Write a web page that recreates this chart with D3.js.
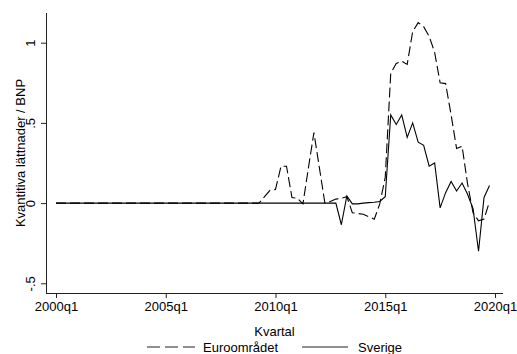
<!DOCTYPE html>
<html>
<head>
<meta charset="utf-8">
<script src="https://cdn.jsdelivr.net/npm/d3@7"></script>
<style>
  html, body { margin: 0; padding: 0; background: #fff; }
  svg { display: block; font-family: "Liberation Sans", Arial, Helvetica, sans-serif; }
</style>
</head>
<body>
<svg id="chart" width="517" height="354"></svg>
<script>
// Quarterly QE holdings relative to GDP, 2000q1 – 2019q4
const quarterLabels = ["2000q1", "2005q1", "2010q1", "2015q1", "2020q1"];
const quarterTickIndex = [0, 20, 40, 60, 80];
const yTickValues = [-0.5, 0, 0.5, 1];
const yTickLabels = ["-.5", "0", ".5", "1"];

const euroomradet = [
  0, 0, 0, 0, 0, 0, 0, 0, 0, 0,
  0, 0, 0, 0, 0, 0, 0, 0, 0, 0,
  0, 0, 0, 0, 0, 0, 0, 0, 0, 0,
  0, 0, 0, 0, 0, 0, 0, 0, 0.04, 0.08,
  0.085, 0.23, 0.23, 0.035, 0.03, -0.005, 0.22, 0.44, 0.22, 0.0,
  0.01, 0.025, 0.03, 0.04, -0.06, -0.065, -0.07, -0.085, -0.10, -0.005,
  0.16, 0.81, 0.87, 0.885, 0.865, 1.07, 1.125, 1.10, 1.04, 0.94,
  0.75, 0.745, 0.55, 0.34, 0.355, 0.12, -0.06, -0.11, -0.10, 0.01
];

const sverige = [
  0, 0, 0, 0, 0, 0, 0, 0, 0, 0,
  0, 0, 0, 0, 0, 0, 0, 0, 0, 0,
  0, 0, 0, 0, 0, 0, 0, 0, 0, 0,
  0, 0, 0, 0, 0, 0, 0, 0, 0, 0,
  0, 0, 0, 0, 0, 0, 0, 0, 0, 0,
  0, 0, -0.135, 0.045, -0.005, -0.005, 0.0, 0.003, 0.005, 0.01,
  0.04, 0.55, 0.49, 0.55, 0.41, 0.50, 0.38, 0.36, 0.23, 0.25,
  -0.03, 0.065, 0.135, 0.075, 0.125, 0.055, -0.035, -0.30, 0.035, 0.11
];

const seriesNames = ["Euroområdet", "Sverige"];

const svg = d3.select("#chart");
const fontSize = 13;

// plot region edges (axis lines)
const plotLeft = 46, plotRight = 503, plotTop = 13, plotBottom = 293;

const x = d3.scaleLinear().domain([0, 80]).range([56, 495]);
const y = d3.scaleLinear().domain([-0.5, 1]).range([283.3, 42.7]);

// axis lines
svg.append("line")
  .attr("x1", plotLeft + 0.5).attr("x2", plotLeft + 0.5)
  .attr("y1", plotTop).attr("y2", plotBottom + 1)
  .attr("stroke", "#222").attr("stroke-width", 1);
svg.append("line")
  .attr("x1", plotLeft).attr("x2", plotRight)
  .attr("y1", plotBottom + 0.5).attr("y2", plotBottom + 0.5)
  .attr("stroke", "#222").attr("stroke-width", 1);

// x axis ticks and labels
const xAxis = d3.axisBottom(x)
  .tickValues(quarterTickIndex)
  .tickFormat((d, i) => quarterLabels[i])
  .tickSize(5)
  .tickPadding(4);
const gx = svg.append("g").attr("transform", `translate(0,${plotBottom})`).call(xAxis);
gx.select(".domain").remove();
gx.selectAll(".tick line").attr("stroke", "#222");
gx.selectAll(".tick text")
  .attr("font-size", fontSize)
  .attr("font-family", "Liberation Sans, Arial, sans-serif")
  .attr("fill", "#000");

// y axis ticks and rotated labels
const yAxis = d3.axisLeft(y)
  .tickValues(yTickValues)
  .tickFormat((d, i) => yTickLabels[i])
  .tickSize(5);
const gy = svg.append("g").attr("transform", `translate(${plotLeft},0)`).call(yAxis);
gy.select(".domain").remove();
gy.selectAll(".tick line").attr("stroke", "#222");
gy.selectAll(".tick text")
  .attr("font-size", fontSize)
  .attr("font-family", "Liberation Sans, Arial, sans-serif")
  .attr("fill", "#000")
  .attr("x", null).attr("dy", null)
  .attr("text-anchor", "middle")
  .attr("transform", "translate(-11,0) rotate(-90)");

// axis titles
svg.append("text")
  .attr("x", (plotLeft + plotRight) / 2).attr("y", 336)
  .attr("text-anchor", "middle")
  .attr("font-size", fontSize)
  .text("Kvartal");

svg.append("text")
  .attr("transform", `translate(25,${(plotTop + plotBottom) / 2}) rotate(-90)`)
  .attr("text-anchor", "middle")
  .attr("font-size", fontSize)
  .text("Kvantitiva lättnader / BNP");

// series lines
const line = d3.line()
  .x((d, i) => x(i))
  .y(d => y(d));

svg.append("path")
  .datum(sverige)
  .attr("d", line)
  .attr("fill", "none")
  .attr("stroke", "#000")
  .attr("stroke-width", 1.1);

svg.append("path")
  .datum(euroomradet)
  .attr("d", line)
  .attr("fill", "none")
  .attr("stroke", "#000")
  .attr("stroke-width", 1.1)
  .attr("stroke-dasharray", "10,4");

// legend
const legendY = 347;
const legend = svg.append("g");
legend.append("line")
  .attr("x1", 147).attr("x2", 195).attr("y1", legendY).attr("y2", legendY)
  .attr("stroke", "#222").attr("stroke-width", 1.1)
  .attr("stroke-dasharray", "13,5");
legend.append("text")
  .attr("x", 203).attr("y", legendY + 4.5)
  .attr("font-size", fontSize)
  .text(seriesNames[0]);
legend.append("line")
  .attr("x1", 302).attr("x2", 348).attr("y1", legendY).attr("y2", legendY)
  .attr("stroke", "#222").attr("stroke-width", 1.1);
legend.append("text")
  .attr("x", 358).attr("y", legendY + 4.5)
  .attr("font-size", fontSize)
  .text(seriesNames[1]);
</script>
</body>
</html>
